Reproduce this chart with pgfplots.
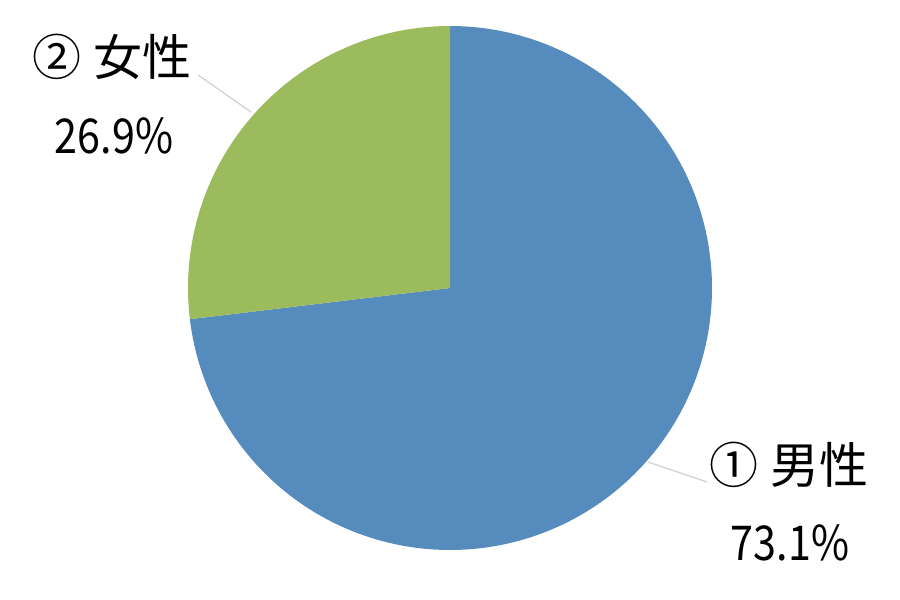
\documentclass[border=0pt]{standalone}
\usepackage{pgfplots}
\pgfplotsset{compat=1.18}
\usepackage{fontspec}
\setmainfont{Noto Sans CJK JP}
\newfontfamily\numfont{Noto Sans CJK JP}[FakeStretch=0.86]
\definecolor{pieblue}{HTML}{568CBD}
\definecolor{piegreen}{HTML}{9BBB5D}
\definecolor{leader}{HTML}{D0D0D0}
% shares (percent)
\def\male{73.1}
\def\female{26.9}
\begin{document}
\begin{tikzpicture}
\path[use as bounding box] (0,0) rectangle (450pt,300pt);
\pgfmathsetmacro{\split}{90-3.6*\male}
\pgfmathsetmacro{\splitg}{90+3.6*\female}
\begin{axis}[
  scale only axis, width=450pt, height=300pt,
  xmin=0, xmax=900, ymin=0, ymax=600,
  hide axis, clip=false,
]
% male slice
\addplot[fill=pieblue, draw=none, domain=\split:90, samples=240, variable=\t]
  ({450+262*cos(\t)},{312+262*sin(\t)}) -- (axis cs:450,312) -- cycle;
% female slice
\addplot[fill=piegreen, draw=none, domain=90:\splitg, samples=120, variable=\t]
  ({450+262*cos(\t)},{312+262*sin(\t)}) -- (axis cs:450,312) -- cycle;
% leader lines
\addplot[leader, line width=0.6pt] coordinates {(198,525) (251,488)};
\addplot[leader, line width=0.6pt] coordinates {(648,138) (707,118)};
% labels
\node[anchor=east, font=\fontsize{24.5}{28}\selectfont] at (axis cs:199,543) {②\hspace{0.25em}女性};
\node[font=\numfont\fontsize{24}{28}\selectfont] at (axis cs:114,464) {\female\%};
\node[anchor=west, font=\fontsize{24.5}{28}\selectfont] at (axis cs:702,135) {①\hspace{0.25em}男性};
\node[font=\numfont\fontsize{24}{28}\selectfont] at (axis cs:790,57) {\male\%};
\end{axis}
\end{tikzpicture}
\end{document}
